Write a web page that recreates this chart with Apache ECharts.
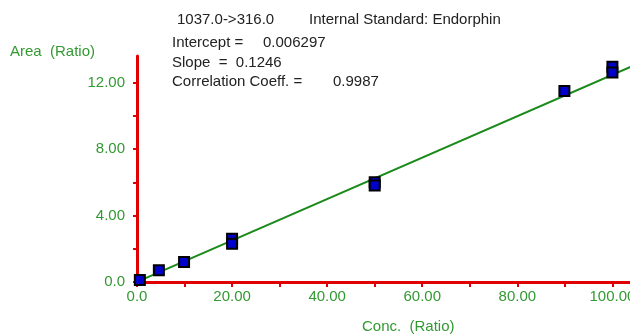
<!DOCTYPE html>
<html>
<head>
<meta charset="utf-8">
<script src="https://cdn.jsdelivr.net/npm/echarts@6/dist/echarts.min.js"></script>
<style>
  html, body { margin: 0; padding: 0; background: #fff; }
  #chart { width: 630px; height: 336px; }
</style>
</head>
<body>
<div id="chart"></div>
<script>
// calibration points (conc, area)
var concValues = [0.6, 4.6, 9.9, 20, 20, 50, 50, 89.9, 100, 100];
var areaValues = [0.12, 0.7, 1.2, 2.6, 2.3, 6.0, 5.8, 11.5, 12.95, 12.6];

// fit result shown in the header
var slope = 0.1246;
var intercept = 0.006297;
var fitRange = [0, 104];

var headerLines = [
  ['1037.0->316.0', 'Internal Standard: Endorphin'],
  ['Intercept =', '0.006297'],
  ['Slope  =  0.1246', ''],
  ['Correlation Coeff. =', '0.9987']
];

var green = '#339933';
var red = '#e00000';
var font = '15px "Liberation Sans"';

var chart = echarts.init(document.getElementById('chart'));

var points = concValues.map(function (c, i) { return [c, areaValues[i]]; });
var fitLine = fitRange.map(function (x) { return [x, slope * x + intercept]; });

function fmt(v) {
  return v === 0 ? '0.0' : v.toFixed(2);
}

chart.setOption({
  animation: false,
  grid: { left: 137, right: 0, top: 56, bottom: 54, outerBoundsMode: 'none' },
  xAxis: {
    type: 'value',
    min: 0,
    max: 103.7,
    interval: 10,
    splitLine: { show: false },
    axisLine: { lineStyle: { color: red, width: 3 } },
    axisTick: { length: 5, lineStyle: { color: red, width: 2 } },
    axisLabel: {
      color: green,
      fontSize: 15,
      fontFamily: 'Liberation Sans',
      margin: 7,
      showMaxLabel: false,
      hideOverlap: false,
      formatter: function (v) { return v % 20 === 0 ? fmt(v) : ''; }
    }
  },
  yAxis: {
    type: 'value',
    min: 0,
    max: 13.6,
    interval: 2,
    splitLine: { show: false },
    axisLine: { show: true, lineStyle: { color: red, width: 3 } },
    axisTick: { show: true, length: 4, lineStyle: { color: red, width: 2 } },
    axisLabel: {
      color: green,
      fontSize: 15,
      fontFamily: 'Liberation Sans',
      margin: 12,
      showMaxLabel: false,
      formatter: function (v) { return v % 4 === 0 ? fmt(v) : ''; }
    }
  },
  series: [
    {
      type: 'line',
      data: fitLine,
      symbol: 'none',
      clip: true,
      lineStyle: { color: '#1a8a1a', width: 2 },
      z: 2
    },
    {
      type: 'scatter',
      data: points,
      symbol: 'rect',
      symbolSize: 10,
      itemStyle: { color: '#0000cc', borderColor: '#000', borderWidth: 2, opacity: 1 },
      z: 3
    }
  ],
  graphic: [
    { type: 'text', left: 10, top: 44, style: { text: 'Area  (Ratio)', fill: green, font: font } },
    { type: 'text', left: 362, top: 319, style: { text: 'Conc.  (Ratio)', fill: green, font: font } },
    { type: 'text', left: 177, top: 12, style: { text: headerLines[0][0], fill: '#222', font: font } },
    { type: 'text', left: 309, top: 12, style: { text: headerLines[0][1], fill: '#222', font: font } },
    { type: 'text', left: 172, top: 35, style: { text: headerLines[1][0], fill: '#222', font: font } },
    { type: 'text', left: 263, top: 35, style: { text: headerLines[1][1], fill: '#222', font: font } },
    { type: 'text', left: 172, top: 55, style: { text: headerLines[2][0], fill: '#222', font: font } },
    { type: 'text', left: 172, top: 74, style: { text: headerLines[3][0], fill: '#222', font: font } },
    { type: 'text', left: 333, top: 74, style: { text: headerLines[3][1], fill: '#222', font: font } }
  ]
});
</script>
</body>
</html>
